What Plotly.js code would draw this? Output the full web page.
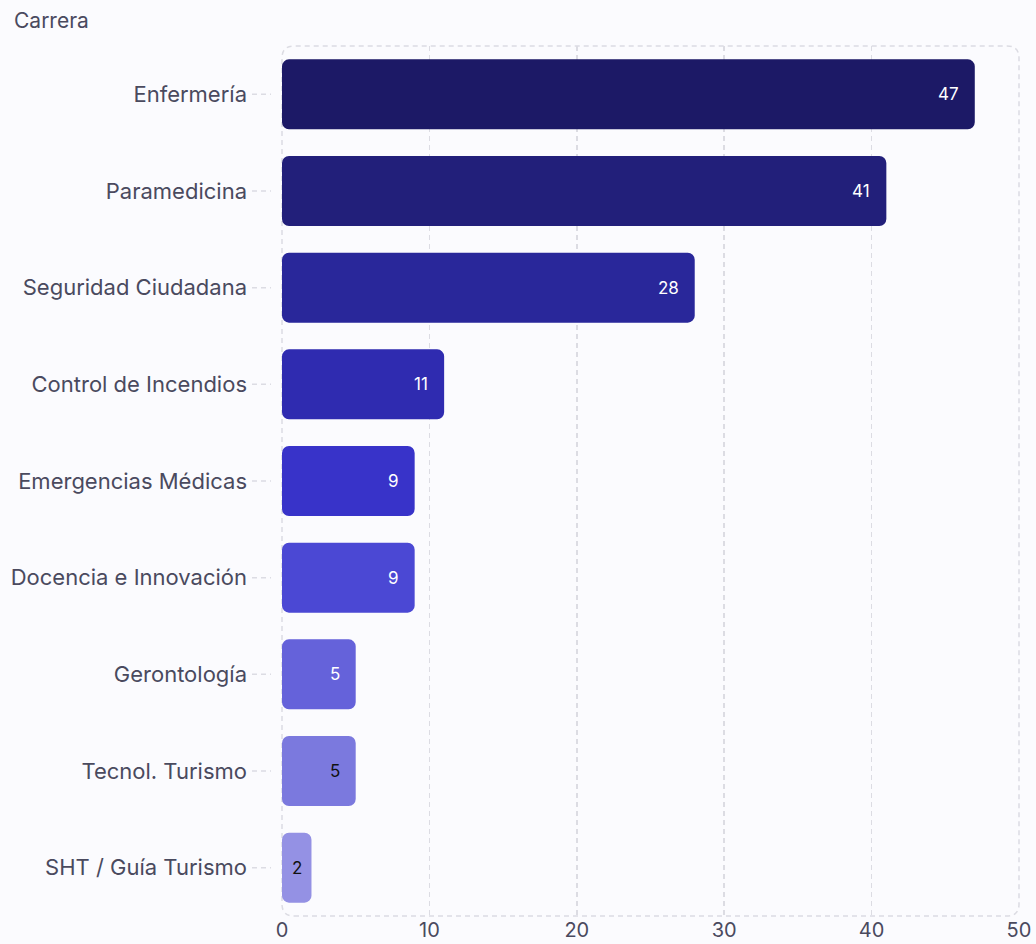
<!DOCTYPE html>
<html>
<head>
<meta charset="utf-8">
<script src="https://cdn.plot.ly/plotly-3.0.1.min.js"></script>
<style>
  html, body { margin: 0; padding: 0; background: #fbfbfe; }
  #chart { width: 1036px; height: 944px; }
</style>
</head>
<body>
<div id="chart"></div>
<script>
const categories = ["Enfermería", "Paramedicina", "Seguridad Ciudadana", "Control de Incendios", "Emergencias Médicas", "Docencia e Innovación", "Gerontología", "Tecnol. Turismo", "SHT / Guía Turismo"];
const values = [47, 41, 28, 11, 9, 9, 5, 5, 2];
const barColors = ["#1c1966", "#221f7a", "#29279a", "#2f2bb0", "#3833c9", "#4b48d4", "#6562da", "#7b79de", "#9491e4"];
const xTicks = [0, 10, 20, 30, 40, 50];
const axisTitle = "Carrera";

const W = 1036, H = 944;
const M = {l: 282, r: 17, t: 46, b: 28};
const pw = W - M.l - M.r, ph = H - M.t - M.b;
const xMax = 50;
const pxPerUnit = pw / xMax;

function textColor(hex) {
  const r = parseInt(hex.substr(1,2),16), g = parseInt(hex.substr(3,2),16), b = parseInt(hex.substr(5,2),16);
  const lum = (0.299*r + 0.587*g + 0.114*b);
  return lum > 120 ? "#111111" : "#ffffff";
}

const bars = {
  type: "bar", orientation: "h",
  y: categories,
  base: values.map(() => 0),
  x: values,
  marker: {color: barColors, cornerradius: 7},
  hoverinfo: "skip"
};

const annotations = values.map((v, i) => {
  const narrow = v * pxPerUnit < 40;
  return {
    x: narrow ? v / 2 : v, y: categories[i], xref: "x", yref: "y",
    text: String(v), showarrow: false,
    xanchor: narrow ? "center" : "right", xshift: narrow ? 0 : -14,
    font: {family: "Inter, sans-serif", size: 17, color: textColor(barColors[i])}
  };
});
annotations.push({
  xref: "paper", yref: "paper",
  x: (12 - M.l) / pw, y: 1 + (M.t - 21) / ph,
  xanchor: "left", yanchor: "middle",
  text: axisTitle, showarrow: false,
  font: {family: "Inter, sans-serif", size: 21, color: "#4a4a5e"}
});

const rx = 12 / pw, ry = 12 / ph;
const dashLine = {color: "#dcdce3", width: 1.5, dash: "5px,4px"};
const shapes = [{
  type: "path", xref: "paper", yref: "paper",
  path: `M ${rx},0 L ${1-rx},0 Q 1,0 1,${ry} L 1,${1-ry} Q 1,1 ${1-rx},1 L ${rx},1 Q 0,1 0,${1-ry} L 0,${ry} Q 0,0 ${rx},0 Z`,
  line: dashLine, layer: "below"
}];
categories.forEach((c, i) => {
  shapes.push({
    type: "line", xref: "paper", yref: "y",
    x0: (252 - M.l) / pw, x1: (271 - M.l) / pw, y0: i, y1: i,
    line: dashLine
  });
});

const layout = {
  width: W, height: H,
  margin: M,
  paper_bgcolor: "#fbfbfe",
  plot_bgcolor: "#fbfbfe",
  bargap: 0.276,
  showlegend: false,
  font: {family: "Inter, sans-serif", color: "#4a4a5e", size: 20},
  xaxis: {
    range: [0, xMax], tickvals: xTicks, ticktext: xTicks.map(String),
    showgrid: true, gridcolor: "#dcdce3", griddash: "5px,4px", gridwidth: 1.5,
    zeroline: false, showline: false, ticks: "",
    tickfont: {family: "Inter, sans-serif", size: 20, color: "#4a4a5e"}
  },
  yaxis: {
    type: "category", autorange: "reversed",
    showgrid: false, zeroline: false, showline: false, ticks: "",
    ticklabelstandoff: 34,
    tickfont: {family: "Inter, sans-serif", size: 22, color: "#4a4a5e"}
  },
  annotations: annotations,
  shapes: shapes
};

Plotly.newPlot("chart", [bars], layout, {displayModeBar: false, staticPlot: true});
</script>
</body>
</html>
